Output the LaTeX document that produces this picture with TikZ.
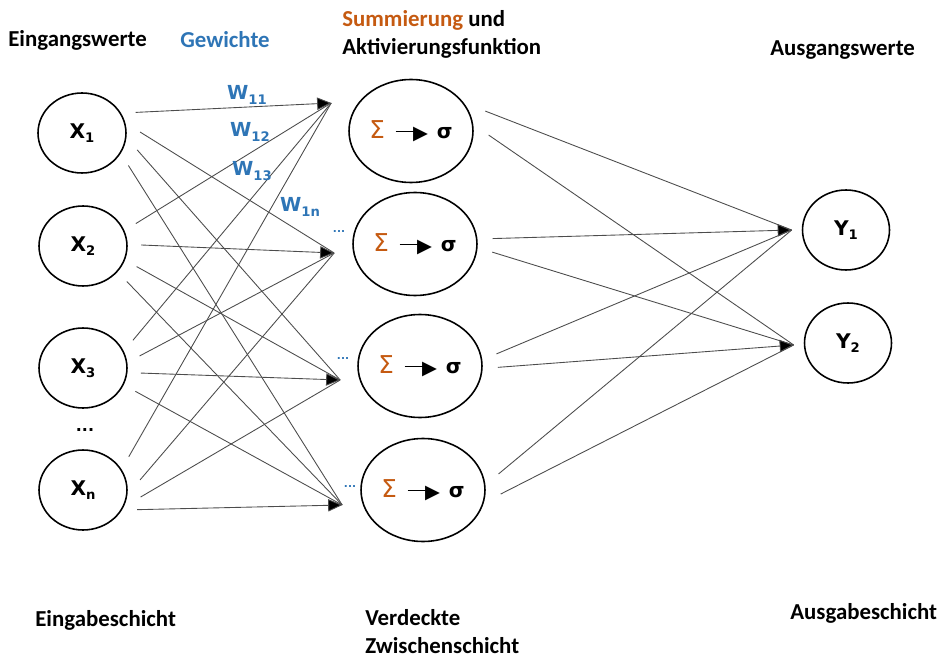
\documentclass[tikz,border=0pt]{standalone}
\usepackage{fontspec}
\setmainfont{Carlito}
\newfontfamily\nodefont{DejaVu Sans}
\usepackage{tikz}
\usetikzlibrary{arrows.meta, shapes.geometric, positioning}
\definecolor{wblue}{RGB}{46,117,182}
\definecolor{sorange}{RGB}{197,90,17}
\newcommand{\lowidx}[1]{\raisebox{-0.4ex}{\fontsize{7.5}{8}\selectfont #1}}
\newcommand{\sumact}{\makebox[0pt]{{\mdseries\fontsize{14}{14}\selectfont\color{sorange}Σ}\hspace{6pt}\rule[0.3em]{11pt}{0.6pt}\kern-1pt\raisebox{-0.05em}{\fontsize{11}{11}\selectfont ▶}\hspace{5pt}σ}}

\begin{document}
\begin{tikzpicture}[x=0.02cm, y=-0.02cm,
    title/.style={font=\bfseries\fontsize{13}{16}\selectfont, anchor=west, inner sep=0pt, align=left},
    neuron/.style={ellipse, draw, line width=0.9pt, minimum width=1.76cm, minimum height=1.6cm,
        font=\nodefont\bfseries\fontsize{11.5}{13}\selectfont},
    inneuron/.style={neuron, outer sep=8pt},
    hidneuron/.style={neuron, minimum width=2.48cm, minimum height=2.06cm, outer sep=9pt},
    outneuron/.style={neuron, minimum width=1.74cm},
    wire/.style={draw=black!70, line width=0.5pt},
    arr/.style={wire, -{Triangle[length=8pt, width=7pt, fill=black]}},
    weight/.style={text=wblue, font=\nodefont\bfseries\fontsize{11}{12}\selectfont, inner sep=0pt},
    wdots/.style={text=wblue, font=\nodefont\bfseries\fontsize{6}{7}\selectfont, inner sep=0pt}]
\useasboundingbox (0,0) rectangle (943,662);

\node[title] (tin) at (8,40) {Eingangswerte};
\node[title, text=wblue] (tw) at (180,40) {Gewichte};
\node[title] (tsum) at (342,34) {{\color{sorange}Summierung} und\\Aktivierungsfunktion};
\node[title] (tout) at (770,50) {Ausgangswerte};
\node[title] (lin) at (35,620) {Eingabeschicht};
\node[title] (lhid) at (365,632) {Verdeckte\\Zwischenschicht};
\node[title] (lout) at (790,613) {Ausgabeschicht};

\node[inneuron] (x1) at (82,133) {X\lowidx{1}};
\node[inneuron] (x2) at (83,246) {X\lowidx{2}};
\node[inneuron] (x3) at (83,368) {X\lowidx{3}};
\node[font=\nodefont\bfseries\fontsize{9}{10}\selectfont] (xdots) at (85,430) {...};
\node[inneuron] (xn) at (83,490) {X\lowidx{n}};

\node[hidneuron] (h1) at (411,131) {\sumact};
\node[hidneuron] (h2) at (415,244) {\sumact};
\node[hidneuron] (h3) at (420,366) {\sumact};
\node[hidneuron] (h4) at (423,490) {\sumact};

\node[outneuron] (y1) at (846,230) {Y\lowidx{1}};
\node[outneuron] (y2) at (848,343) {Y\lowidx{2}};

\coordinate (h1in) at ([shift={(-2,-28)}]h1.west);
\coordinate (h2in) at ([shift={(-3,9)}]h2.west);
\coordinate (h3in) at ([shift={(-2,14)}]h3.west);
\coordinate (h4in) at ([shift={(-3,15)}]h4.west);
\coordinate (y1in) at ([shift={(-10,0)}]y1.west);
\coordinate (y2in) at ([shift={(-10,2)}]y2.west);

\draw[arr] (x1.21) -- (h1in);
\draw[wire] (x1.1) -- (h2in);
\draw[wire] (x1.343) -- (h3in);
\draw[wire] (x1.325) -- (h4in);
\draw[wire] (x2.23) -- (h1in);
\draw[arr] (x2.1) -- (h2in);
\draw[wire] (x2.339) -- (h3in);
\draw[wire] (x2.321) -- (h4in);
\draw[wire] (x3.29) -- (h1in);
\draw[wire] (x3.12) -- (h2in);
\draw[arr] (x3.355) -- (h3in);
\draw[wire] (x3.336) -- (h4in);
\draw[wire] (xn.36) -- (h1in);
\draw[wire] (xn.10) -- (h2in);
\draw[wire] (xn.353) -- (h3in);
\draw[arr] (xn.340) -- (h4in);

\draw[wire] (h1.15) -- (y1in);
\draw[wire] (h1.357) -- (y2in);
\draw[arr] (h2.4) -- (y1in);
\draw[wire] (h2.354) -- (y2in);
\draw[wire] (h3.9) -- (y1in);
\draw[arr] (h3.359) -- (y2in);
\draw[wire] (h4.12) -- (y1in);
\draw[wire] (h4.357) -- (y2in);

\node[weight] (w11) at (247,95) {W\lowidx{11}};
\node[weight] (w12) at (250,132) {W\lowidx{12}};
\node[weight] (w13) at (252,171) {W\lowidx{13}};
\node[weight] (w1n) at (300,207) {W\lowidx{1n}};
\node[wdots] (d2) at (339,232) {...};
\node[wdots] (d3) at (343,359) {...};
\node[wdots] (d4) at (350,487) {...};
\end{tikzpicture}
\end{document}
